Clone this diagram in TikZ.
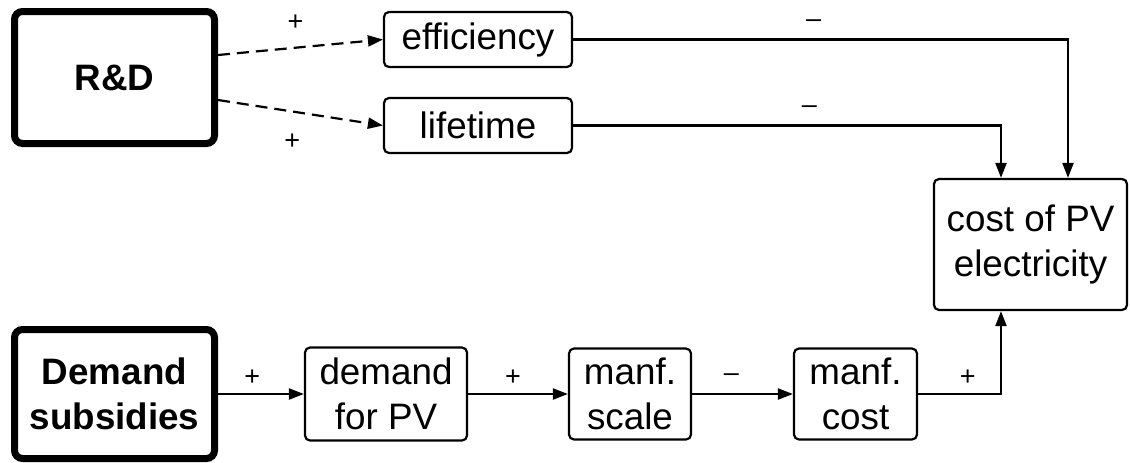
\documentclass[tikz,border=0pt]{standalone}
\usepackage{fontspec}
\setmainfont{Liberation Sans}
\usepackage{tikz}
\usetikzlibrary{arrows.meta}
\newcommand\boxfont{\fontsize{18.4}{22.5}\selectfont}
\newcommand\signfont{\fontsize{13.5}{15}\selectfont}

\begin{document}
\begin{tikzpicture}[x=0.5pt,y=-0.5pt,->,>={Triangle[length=7.5pt,width=5.5pt]},line width=1.1pt]
    \tikzstyle{factor}=[draw, rectangle, rounded corners=2.5pt, line width=1.1pt, align=center, inner sep=0pt, font=\boxfont]
    \tikzstyle{policy}=[style=factor, line width=3.5pt, rounded corners=4pt, font=\boxfont\bfseries]
    \tikzstyle{sign}=[font=\signfont, text=black, inner sep=0pt]
    \tikzstyle{dashy}=[dash pattern=on 6pt off 3.5pt]
    \tikzstyle{elbow}=[to path={-| (\tikztotarget) \tikztonodes}]

    \useasboundingbox (0,0) rectangle (1130,462);

    \node[policy, minimum width=100pt, minimum height=66pt]   (RD)     at (114.5,77.5)  {R\&D};
    \node[policy, minimum width=100pt, minimum height=64.5pt] (DS)     at (114.5,394)   {Demand\\subsidies};
    \node[factor, minimum width=94pt, minimum height=27.5pt]  (eff)    at (478,39.5)    {efficiency};
    \node[factor, minimum width=94pt, minimum height=27.5pt]  (life)   at (478,125.5)   {lifetime};
    \node[factor, minimum width=96.5pt, minimum height=65.5pt] (cost)  at (1030.5,244.5) {cost of PV\\electricity};
    \node[factor, minimum width=81pt, minimum height=46.5pt]  (dem)    at (386,394)     {demand\\for PV};
    \node[factor, minimum width=61pt, minimum height=45.5pt]  (mscale) at (630,394)     {manf.\\scale};
    \node[factor, minimum width=61.5pt, minimum height=45.5pt] (mcost) at (855.5,394)   {manf.\\cost};

    \path
     ([yshift=11.25pt]RD.east)  edge[dashy] node[sign,pos=0.47,yshift=12.5pt] {+} (eff.west)
     ([yshift=-11.25pt]RD.east) edge[dashy] node[sign,pos=0.45,yshift=-15pt] {+} (life.west)
     (eff.east)  edge[elbow] node[sign,pos=0.243,yshift=8pt] {--} ([xshift=18.75pt]cost.north)
     (life.east) edge[elbow] node[sign,pos=0.276,yshift=8pt] {--} ([xshift=-14.75pt]cost.north)
     (DS.east)     edge node[sign,pos=0.4,yshift=8pt] {+} (dem.west)
     (dem.east)    edge node[sign,pos=0.45,yshift=8pt] {+} (mscale.west)
     (mscale.east) edge node[sign,pos=0.39,yshift=8pt] {--} (mcost.west)
     (mcost.east)  edge[elbow] node[sign,pos=0.3,yshift=8pt] {+} ([xshift=-14.75pt]cost.south);
\end{tikzpicture}
\end{document}
